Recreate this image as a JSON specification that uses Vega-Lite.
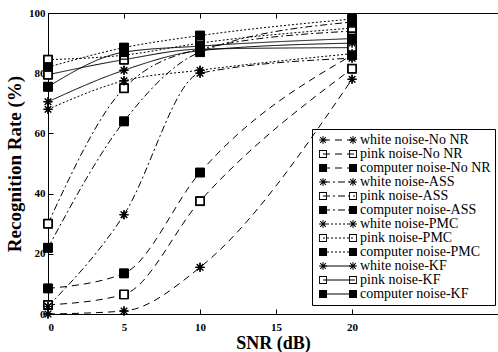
{
  "$schema": "https://vega.github.io/schema/vega-lite/v6.json",
  "width": 450,
  "height": 301,
  "autosize": {"type": "none"},
  "padding": {"left": 48, "top": 13, "right": 0, "bottom": 38},
  "background": "white",
  "config": {
    "view": {"stroke": null},
    "axis": {
      "grid": false,
      "domainColor": "black",
      "tickColor": "black",
      "labelColor": "black",
      "titleColor": "black",
      "labelFont": "Liberation Serif",
      "titleFont": "Liberation Serif",
      "labelFontWeight": "bold",
      "titleFontWeight": "bold",
      "labelFontSize": 11,
      "titleFontSize": 19,
      "tickSize": -5,
      "domainWidth": 1,
      "tickWidth": 1
    },
    "legend": {
      "labelFont": "Liberation Serif",
      "labelFontSize": 14,
      "labelColor": "black",
      "labelLimit": 300
    }
  },
  "data": {
    "values": [
      {"series": "white noise-No NR", "snr": 0, "rate": 0},
      {"series": "white noise-No NR", "snr": 5, "rate": 1},
      {"series": "white noise-No NR", "snr": 10, "rate": 15.5},
      {"series": "white noise-No NR", "snr": 20, "rate": 78},
      {"series": "pink noise-No NR", "snr": 0, "rate": 3},
      {"series": "pink noise-No NR", "snr": 5, "rate": 6.5},
      {"series": "pink noise-No NR", "snr": 10, "rate": 37.5},
      {"series": "pink noise-No NR", "snr": 20, "rate": 81.5},
      {"series": "computer noise-No NR", "snr": 0, "rate": 8.5},
      {"series": "computer noise-No NR", "snr": 5, "rate": 13.5},
      {"series": "computer noise-No NR", "snr": 10, "rate": 47},
      {"series": "computer noise-No NR", "snr": 20, "rate": 86},
      {"series": "white noise-ASS", "snr": 0, "rate": 2.5},
      {"series": "white noise-ASS", "snr": 5, "rate": 33},
      {"series": "white noise-ASS", "snr": 10, "rate": 80},
      {"series": "white noise-ASS", "snr": 20, "rate": 85},
      {"series": "pink noise-ASS", "snr": 0, "rate": 30},
      {"series": "pink noise-ASS", "snr": 5, "rate": 75},
      {"series": "pink noise-ASS", "snr": 10, "rate": 88},
      {"series": "pink noise-ASS", "snr": 20, "rate": 94},
      {"series": "computer noise-ASS", "snr": 0, "rate": 22},
      {"series": "computer noise-ASS", "snr": 5, "rate": 64},
      {"series": "computer noise-ASS", "snr": 10, "rate": 87},
      {"series": "computer noise-ASS", "snr": 20, "rate": 97},
      {"series": "white noise-PMC", "snr": 0, "rate": 68},
      {"series": "white noise-PMC", "snr": 5, "rate": 77.5},
      {"series": "white noise-PMC", "snr": 10, "rate": 81},
      {"series": "white noise-PMC", "snr": 20, "rate": 86.5},
      {"series": "pink noise-PMC", "snr": 0, "rate": 84.5},
      {"series": "pink noise-PMC", "snr": 5, "rate": 86},
      {"series": "pink noise-PMC", "snr": 10, "rate": 90},
      {"series": "pink noise-PMC", "snr": 20, "rate": 95},
      {"series": "computer noise-PMC", "snr": 0, "rate": 82},
      {"series": "computer noise-PMC", "snr": 5, "rate": 88.5},
      {"series": "computer noise-PMC", "snr": 10, "rate": 92.5},
      {"series": "computer noise-PMC", "snr": 20, "rate": 98},
      {"series": "white noise-KF", "snr": 0, "rate": 70.5},
      {"series": "white noise-KF", "snr": 5, "rate": 81},
      {"series": "white noise-KF", "snr": 10, "rate": 87.5},
      {"series": "white noise-KF", "snr": 20, "rate": 90},
      {"series": "pink noise-KF", "snr": 0, "rate": 79.5},
      {"series": "pink noise-KF", "snr": 5, "rate": 84.5},
      {"series": "pink noise-KF", "snr": 10, "rate": 88},
      {"series": "pink noise-KF", "snr": 20, "rate": 88.5},
      {"series": "computer noise-KF", "snr": 0, "rate": 75.5},
      {"series": "computer noise-KF", "snr": 5, "rate": 87},
      {"series": "computer noise-KF", "snr": 10, "rate": 89},
      {"series": "computer noise-KF", "snr": 20, "rate": 91.5}
    ]
  },
  "layer": [
    {
      "mark": {"type": "line", "interpolate": "monotone", "color": "black", "strokeWidth": 1},
      "encoding": {
        "x": {"field": "snr", "type": "quantitative", "scale": {"domain": [0, 29.6], "nice": false, "zero": false},
              "axis": {"orient": "bottom", "values": [0, 5, 10, 15, 20], "title": "SNR (dB)", "labelPadding": 12, "titlePadding": 2, "titleFontSize": 18}},
        "y": {"field": "rate", "type": "quantitative", "scale": {"domain": [0, 100], "nice": false},
              "axis": {"orient": "left", "values": [0, 20, 40, 60, 80, 100], "title": "Recognition Rate (%)", "labelPadding": 8, "titlePadding": 4}},
        "strokeDash": {
          "field": "series", "type": "nominal",
          "scale": {
            "domain": ["white noise-No NR", "pink noise-No NR", "computer noise-No NR", "white noise-ASS", "pink noise-ASS", "computer noise-ASS", "white noise-PMC", "pink noise-PMC", "computer noise-PMC", "white noise-KF", "pink noise-KF", "computer noise-KF"],
            "range": [[7, 5], [7, 5], [7, 5], [7, 3, 2, 3], [7, 3, 2, 3], [7, 3, 2, 3], [2, 2], [2, 2], [2, 2], [1, 0], [1, 0], [1, 0]]
          },
          "legend": {"orient": "none", "legendX": 280, "legendY": 116, "title": null, "symbolType": "M-4,0H4", "symbolSize": 64,
                     "symbolStrokeColor": "black", "symbolStrokeWidth": 1, "labelOpacity": 0, "labelExpr": "'I'", "padding": 4, "rowPadding": -0.7, "labelOffset": -20}
        }
      }
    },
    {
      "mark": {"type": "point", "stroke": "black", "strokeWidth": 1, "size": 80, "opacity": 1},
      "encoding": {
        "x": {"field": "snr", "type": "quantitative", "scale": {"domain": [0, 29.6], "nice": false, "zero": false},
              "axis": {"orient": "top", "values": [0, 5, 10, 15, 20], "labels": false, "title": null}},
        "y": {"field": "rate", "type": "quantitative", "scale": {"domain": [0, 100], "nice": false}, "axis": null},
        "shape": {
          "field": "series", "type": "nominal",
          "scale": {
            "domain": ["white noise-No NR", "pink noise-No NR", "computer noise-No NR", "white noise-ASS", "pink noise-ASS", "computer noise-ASS", "white noise-PMC", "pink noise-PMC", "computer noise-PMC", "white noise-KF", "pink noise-KF", "computer noise-KF"],
            "range": ["M-1,0L1,0M0,-1L0,1M-0.7,-0.7L0.7,0.7M-0.7,0.7L0.7,-0.7", "square", "square", "M-1,0L1,0M0,-1L0,1M-0.7,-0.7L0.7,0.7M-0.7,0.7L0.7,-0.7", "square", "square", "M-1,0L1,0M0,-1L0,1M-0.7,-0.7L0.7,0.7M-0.7,0.7L0.7,-0.7", "square", "square", "M-1,0L1,0M0,-1L0,1M-0.7,-0.7L0.7,0.7M-0.7,0.7L0.7,-0.7", "square", "square"]
          },
          "legend": null
        },
        "fill": {
          "field": "series", "type": "nominal",
          "scale": {
            "domain": ["white noise-No NR", "pink noise-No NR", "computer noise-No NR", "white noise-ASS", "pink noise-ASS", "computer noise-ASS", "white noise-PMC", "pink noise-PMC", "computer noise-PMC", "white noise-KF", "pink noise-KF", "computer noise-KF"],
            "range": ["white", "white", "black", "white", "white", "black", "white", "white", "black", "white", "white", "black"]
          },
          "legend": null
        }
      }
    },
    {
      "mark": {"type": "point", "filled": true, "color": "black", "size": 80, "opacity": 1},
      "encoding": {
        "x": {"field": "snr", "type": "quantitative", "scale": {"domain": [0, 29.6], "nice": false, "zero": false}, "axis": null},
        "y": {"field": "rate", "type": "quantitative", "scale": {"domain": [0, 100], "nice": false}, "axis": null},
        "shape": {
          "field": "series", "type": "nominal",
          "scale": {
            "domain": ["white noise-No NR", "pink noise-No NR", "computer noise-No NR", "white noise-ASS", "pink noise-ASS", "computer noise-ASS", "white noise-PMC", "pink noise-PMC", "computer noise-PMC", "white noise-KF", "pink noise-KF", "computer noise-KF"],
            "range": [
              "M-1,-0.12H1V0.12H-1ZM-0.12,-1H0.12V1H-0.12ZM-0.615,-0.785L0.785,0.615L0.615,0.785L-0.785,-0.615ZM-0.785,0.615L0.615,-0.785L0.785,-0.615L-0.615,0.785Z",
              "M-1,-1H1V1H-1ZM-0.78,-0.78V0.78H0.78V-0.78Z",
              "M-1,-1H1V1H-1Z",
              "M-1,-0.12H1V0.12H-1ZM-0.12,-1H0.12V1H-0.12ZM-0.615,-0.785L0.785,0.615L0.615,0.785L-0.785,-0.615ZM-0.785,0.615L0.615,-0.785L0.785,-0.615L-0.615,0.785Z",
              "M-1,-1H1V1H-1ZM-0.78,-0.78V0.78H0.78V-0.78Z",
              "M-1,-1H1V1H-1Z",
              "M-1,-0.12H1V0.12H-1ZM-0.12,-1H0.12V1H-0.12ZM-0.615,-0.785L0.785,0.615L0.615,0.785L-0.785,-0.615ZM-0.785,0.615L0.615,-0.785L0.785,-0.615L-0.615,0.785Z",
              "M-1,-1H1V1H-1ZM-0.78,-0.78V0.78H0.78V-0.78Z",
              "M-1,-1H1V1H-1Z",
              "M-1,-0.12H1V0.12H-1ZM-0.12,-1H0.12V1H-0.12ZM-0.615,-0.785L0.785,0.615L0.615,0.785L-0.785,-0.615ZM-0.785,0.615L0.615,-0.785L0.785,-0.615L-0.615,0.785Z",
              "M-1,-1H1V1H-1ZM-0.78,-0.78V0.78H0.78V-0.78Z",
              "M-1,-1H1V1H-1Z"
            ]
          },
          "legend": {"orient": "none", "legendX": 264, "legendY": 116, "title": null, "strokeColor": "black", "padding": 4, "rowPadding": -0.7,
                     "labelOffset": 30, "symbolSize": 64, "symbolFillColor": "black", "symbolStrokeWidth": 0}
        }
      }
    },
    {
      "mark": {"type": "point", "filled": true, "color": "black", "size": 80, "opacity": 1},
      "encoding": {
        "x": {"field": "snr", "type": "quantitative", "scale": {"domain": [0, 29.6], "nice": false, "zero": false}, "axis": null},
        "y": {"field": "rate", "type": "quantitative", "scale": {"domain": [0, 100], "nice": false}, "axis": null},
        "shape": {
          "field": "series", "type": "nominal",
          "scale": {
            "domain": ["white noise-No NR", "pink noise-No NR", "computer noise-No NR", "white noise-ASS", "pink noise-ASS", "computer noise-ASS", "white noise-PMC", "pink noise-PMC", "computer noise-PMC", "white noise-KF", "pink noise-KF", "computer noise-KF"],
            "range": [
              "M-1,-0.12H1V0.12H-1ZM-0.12,-1H0.12V1H-0.12ZM-0.615,-0.785L0.785,0.615L0.615,0.785L-0.785,-0.615ZM-0.785,0.615L0.615,-0.785L0.785,-0.615L-0.615,0.785Z",
              "M-1,-1H1V1H-1ZM-0.78,-0.78V0.78H0.78V-0.78Z",
              "M-1,-1H1V1H-1Z",
              "M-1,-0.12H1V0.12H-1ZM-0.12,-1H0.12V1H-0.12ZM-0.615,-0.785L0.785,0.615L0.615,0.785L-0.785,-0.615ZM-0.785,0.615L0.615,-0.785L0.785,-0.615L-0.615,0.785Z",
              "M-1,-1H1V1H-1ZM-0.78,-0.78V0.78H0.78V-0.78Z",
              "M-1,-1H1V1H-1Z",
              "M-1,-0.12H1V0.12H-1ZM-0.12,-1H0.12V1H-0.12ZM-0.615,-0.785L0.785,0.615L0.615,0.785L-0.785,-0.615ZM-0.785,0.615L0.615,-0.785L0.785,-0.615L-0.615,0.785Z",
              "M-1,-1H1V1H-1ZM-0.78,-0.78V0.78H0.78V-0.78Z",
              "M-1,-1H1V1H-1Z",
              "M-1,-0.12H1V0.12H-1ZM-0.12,-1H0.12V1H-0.12ZM-0.615,-0.785L0.785,0.615L0.615,0.785L-0.785,-0.615ZM-0.785,0.615L0.615,-0.785L0.785,-0.615L-0.615,0.785Z",
              "M-1,-1H1V1H-1ZM-0.78,-0.78V0.78H0.78V-0.78Z",
              "M-1,-1H1V1H-1Z"
            ]
          },
          "legend": {"orient": "none", "legendX": 294, "legendY": 116, "title": null, "padding": 4, "rowPadding": -0.7,
                     "labelOffset": -20, "symbolSize": 64, "symbolFillColor": "black", "symbolStrokeWidth": 0, "labelOpacity": 0, "labelExpr": "'I'"}
        }
      }
    }
  ],
  "resolve": {
    "scale": {"shape": "independent", "fill": "independent"},
    "legend": {"shape": "independent", "fill": "independent"},
    "axis": {"x": "independent", "y": "independent"}
  }
}
